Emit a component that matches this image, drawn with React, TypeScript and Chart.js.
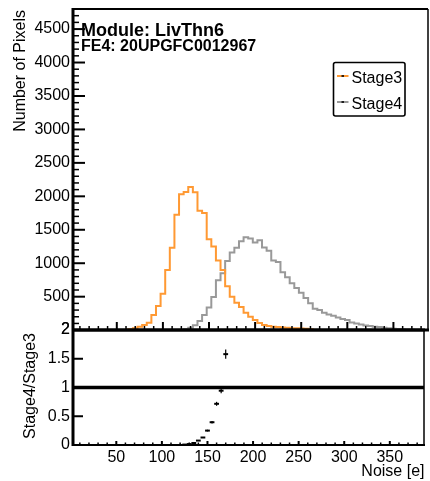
import React, { useEffect, useRef } from 'react';
import { Chart, registerables } from 'chart.js';

Chart.register(...registerables);

// ---------- data ----------
const binCenters = [
  60, 65, 70, 75, 80, 85, 90, 95, 100, 105, 110, 115, 120, 125, 130, 135, 140, 145, 150, 155,
  160, 165, 170, 175, 180, 185, 190, 195, 200, 205, 210, 215, 220, 225, 230, 235, 240, 245, 250, 255,
  260, 265, 270, 275, 280, 285, 290, 295, 300, 305, 310, 315, 320, 325, 330, 335, 340, 345, 350, 355,
  360, 365, 370, 375, 380, 385,
];
const binWidth = 5;

const stage3 = [
  0, 15, 30, 50, 75, 110, 225, 360, 545, 900, 1233, 1725, 2030, 2065, 2140, 2060, 1785, 1750, 1357, 1250,
  1040, 900, 655, 500, 410, 345, 260, 200, 150, 105, 75, 60, 52, 46, 40, 35, 30, 27, 24, 20,
  15, 0, 0, 0, 0, 0, 0, 0, 0, 0, 0, 0, 0, 0, 0, 0, 0, 0, 0, 0,
  0, 0, 0, 0, 0, 0,
];

const stage4 = [
  0, 0, 0, 0, 0, 0, 0, 0, 0, 0, 0, 0, 0, 15, 35, 72, 137, 228, 340, 495,
  745, 850, 1035, 1160, 1230, 1330, 1390, 1370, 1310, 1345, 1235, 1185, 1040, 1020, 865, 790, 700, 630, 560, 480,
  400, 320, 300, 260, 235, 215, 190, 165, 150, 115, 100, 85, 70, 60, 52, 45, 35, 28, 22, 18,
  14, 10, 8, 5, 3, 2,
];

const xTickValues = [50, 100, 150, 200, 250, 300, 350];
const yTickValuesMain = [2, 500, 1000, 1500, 2000, 2500, 3000, 3500, 4000, 4500];
const yTickValuesRatio = [0, 0.5, 1, 1.5, 2];
const seriesNames = ['Stage3', 'Stage4'];
const seriesColors = ['#ff9933', '#999999'];
const moduleLabel = 'Module: LivThn6';
const feLabel = 'FE4: 20UPGFC0012967';
const yTitleMain = 'Number of Pixels';
const yTitleRatio = 'Stage4/Stage3';
const xTitle = 'Noise [e]';

// ---------- helpers ----------
const FONT = '"Liberation Sans", Arial, Helvetica, sans-serif';

function histPoints(vals: number[]) {
  const pts = binCenters.map((c, i) => ({ x: c - binWidth / 2, y: vals[i] }));
  const last = binCenters.length - 1;
  pts.push({ x: binCenters[last] + binWidth / 2, y: vals[last] });
  return pts;
}

function ratioPoints() {
  const out: { x: number; y: number; e: number }[] = [];
  binCenters.forEach((c, i) => {
    const a = stage4[i];
    const b = stage3[i];
    if (a > 0 && b > 0) {
      const r = a / b;
      if (r <= 2) out.push({ x: c, y: r, e: r * Math.sqrt(1 / a + 1 / b) });
    }
  });
  return out;
}

function line(ctx: CanvasRenderingContext2D, x1: number, y1: number, x2: number, y2: number, w: number) {
  ctx.lineWidth = w;
  ctx.beginPath();
  ctx.moveTo(x1, y1);
  ctx.lineTo(x2, y2);
  ctx.stroke();
}

const upperDecor = {
  id: 'upperDecor',
  afterDraw(chart: any) {
    const { ctx, chartArea: a } = chart;
    const xs = chart.scales.x;
    const ys = chart.scales.y;
    ctx.save();
    ctx.strokeStyle = '#000';
    // y ticks (inward)
    for (let v = 100; v < ys.max; v += 100) {
      const py = ys.getPixelForValue(v);
      const major = v % 500 === 0;
      line(ctx, a.left, py, a.left + (major ? 12 : 6), py, major ? 2 : 1.5);
    }
    // x ticks on bottom of upper pad
    for (let v = 10; v < xs.max; v += 10) {
      const px = xs.getPixelForValue(v);
      const major = v % 50 === 0;
      line(ctx, px, a.bottom, px, a.bottom - (major ? 8 : 4), major ? 2 : 1.5);
    }
    // frame
    line(ctx, a.left, a.top, a.right, a.top, 2);
    line(ctx, a.right, a.top, a.right, a.bottom, 1.5);
    line(ctx, a.left, a.top - 1, a.left, a.bottom, 3);
    line(ctx, a.left, a.bottom, a.right + 1, a.bottom, 3);

    // texts
    ctx.fillStyle = '#000';
    ctx.textAlign = 'left';
    ctx.textBaseline = 'alphabetic';
    ctx.font = `bold 18px ${FONT}`;
    ctx.fillText(moduleLabel, a.left + 8, 35.5);
    ctx.font = `bold 16px ${FONT}`;
    ctx.fillText(feLabel, a.left + 8, 50.5);

    // y title
    ctx.save();
    ctx.font = `16px ${FONT}`;
    ctx.translate(25, a.top + 1);
    ctx.rotate(-Math.PI / 2);
    ctx.textAlign = 'right';
    ctx.fillText(yTitleMain, 0, 0);
    ctx.restore();

    // legend
    const lx = 333.5, ly = 62.5, lw = 71.5, lh = 53.5;
    ctx.fillStyle = '#fff';
    ctx.beginPath();
    (ctx as any).roundRect(lx, ly, lw, lh, 2);
    ctx.fill();
    ctx.lineWidth = 1.6;
    ctx.strokeStyle = '#000';
    ctx.stroke();
    const rows = [76, 102];
    seriesNames.forEach((name, i) => {
      const ry = rows[i];
      ctx.strokeStyle = seriesColors[i];
      line(ctx, lx + 3.5, ry, lx + 15, ry, 2);
      ctx.strokeStyle = '#000';
      line(ctx, lx + 8, ry, lx + 10.5, ry, 1.6);
      ctx.fillStyle = '#000';
      ctx.font = `16px ${FONT}`;
      ctx.textAlign = 'left';
      ctx.textBaseline = 'alphabetic';
      ctx.fillText(name, lx + 18, ry + 6.5);
    });
    ctx.restore();
  },
};

const ratioDecor = {
  id: 'ratioDecor',
  beforeDatasetsDraw(chart: any) {
    const { ctx, chartArea: a } = chart;
    const ys = chart.scales.y;
    ctx.save();
    ctx.strokeStyle = '#000';
    const py = ys.getPixelForValue(1);
    line(ctx, a.left, py, a.right, py, 3.5);
    ctx.restore();
  },
  afterDatasetsDraw(chart: any) {
    const { ctx } = chart;
    const xs = chart.scales.x;
    const ys = chart.scales.y;
    const ds = chart.data.datasets[0].data as { x: number; y: number; e: number }[];
    ctx.save();
    ctx.strokeStyle = '#000';
    ds.forEach((p) => {
      const px = xs.getPixelForValue(p.x);
      const y1 = ys.getPixelForValue(p.y - p.e);
      const y2 = ys.getPixelForValue(p.y + p.e);
      if (Math.abs(y1 - y2) > 1.5) line(ctx, px, y1, px, y2, 1.2);
    });
    ctx.restore();
  },
  afterDraw(chart: any) {
    const { ctx, chartArea: a } = chart;
    const xs = chart.scales.x;
    const ys = chart.scales.y;
    ctx.save();
    ctx.strokeStyle = '#000';
    yTickValuesRatio.forEach((v) => {
      const py = ys.getPixelForValue(v);
      line(ctx, a.left, py, a.left + 10, py, 2);
    });
    for (let v = 10; v < xs.max; v += 10) {
      const px = xs.getPixelForValue(v);
      const major = v % 50 === 0;
      line(ctx, px, a.bottom, px, a.bottom - (major ? 4 : 2.5), major ? 2 : 1.5);
    }
    line(ctx, a.left, a.top, a.right + 1, a.top, 3);
    line(ctx, a.right, a.top, a.right, a.bottom, 1.5);
    line(ctx, a.left, a.top, a.left, a.bottom + 1, 3);
    line(ctx, a.left, a.bottom, a.right + 1, a.bottom, 2);

    ctx.fillStyle = '#000';
    ctx.font = `16px ${FONT}`;
    ctx.save();
    ctx.translate(35, (a.top + a.bottom) / 2 - 1.5);
    ctx.rotate(-Math.PI / 2);
    ctx.textAlign = 'center';
    ctx.textBaseline = 'alphabetic';
    ctx.fillText(yTitleRatio, 0, 0);
    ctx.restore();

    ctx.textAlign = 'right';
    ctx.textBaseline = 'alphabetic';
    ctx.fillText(xTitle, a.right + 0.5, 476);
    ctx.restore();
  },
};

const tickFont = { family: FONT, size: 16 };

export default function App() {
  const topRef = useRef<HTMLCanvasElement>(null);
  const botRef = useRef<HTMLCanvasElement>(null);

  useEffect(() => {
    const xMin = binCenters[0] - binWidth / 2 - 55;
    const xMax = binCenters[binCenters.length - 1] + binWidth / 2;

    const c1 = new Chart(topRef.current as HTMLCanvasElement, {
      type: 'line',
      data: {
        datasets: [
          {
            label: seriesNames[0],
            data: histPoints(stage3),
            borderColor: seriesColors[0],
            borderWidth: 2,
            pointRadius: 0,
            stepped: true,
            fill: false,
          },
          {
            label: seriesNames[1],
            data: histPoints(stage4),
            borderColor: seriesColors[1],
            borderWidth: 2,
            pointRadius: 0,
            stepped: true,
            fill: false,
          },
        ],
      },
      options: {
        responsive: false,
        animation: false,
        devicePixelRatio: 1,
        events: [],
        layout: { padding: { left: 0, top: 9, right: 2, bottom: 151 } },
        plugins: { legend: { display: false }, tooltip: { enabled: false } },
        scales: {
          x: { type: 'linear', min: xMin, max: xMax, display: false },
          y: {
            type: 'linear',
            min: 2,
            max: 4800,
            grid: { display: false, drawTicks: false },
            border: { display: false },
            ticks: {
              font: tickFont,
              color: '#000',
              padding: 3,
              autoSkip: false,
              callback: (v: any) => String(v),
            },
            afterBuildTicks: (s: any) => {
              s.ticks = yTickValuesMain.map((v) => ({ value: v }));
            },
            afterFit: (s: any) => {
              s.width = 73;
              s.paddingTop = 0;
              s.paddingBottom = 0;
            },
          },
        },
      } as any,
      plugins: [upperDecor],
    });

    const c2 = new Chart(botRef.current as HTMLCanvasElement, {
      type: 'scatter',
      data: {
        datasets: [
          {
            label: yTitleRatio,
            data: ratioPoints(),
            pointStyle: 'line',
            pointRadius: 2.4,
            borderColor: '#000',
            backgroundColor: '#000',
            borderWidth: 2,
          },
        ],
      },
      options: {
        responsive: false,
        animation: false,
        devicePixelRatio: 1,
        events: [],
        layout: { padding: { left: 0, top: 330, right: 2, bottom: 0 } },
        plugins: { legend: { display: false }, tooltip: { enabled: false } },
        scales: {
          x: {
            type: 'linear',
            min: xMin,
            max: xMax,
            grid: { display: false, drawTicks: false },
            border: { display: false },
            ticks: {
              font: tickFont,
              color: '#000',
              padding: 3,
              maxRotation: 0,
              autoSkip: false,
              callback: (v: any) => String(v),
            },
            afterBuildTicks: (s: any) => {
              s.ticks = xTickValues.map((v) => ({ value: v }));
            },
            afterFit: (s: any) => {
              s.height = 36;
              s.paddingLeft = 0;
              s.paddingRight = 0;
            },
          },
          y: {
            type: 'linear',
            min: 0,
            max: 2,
            grid: { display: false, drawTicks: false },
            border: { display: false },
            ticks: {
              font: tickFont,
              color: '#000',
              padding: 3,
              autoSkip: false,
              callback: (v: any) => String(v),
            },
            afterBuildTicks: (s: any) => {
              s.ticks = yTickValuesRatio.map((v) => ({ value: v }));
            },
            afterFit: (s: any) => {
              s.width = 73;
              s.paddingTop = 0;
              s.paddingBottom = 0;
            },
          },
        },
      } as any,
      plugins: [ratioDecor],
    });

    return () => {
      c1.destroy();
      c2.destroy();
    };
  }, []);

  return (
    <div style={{ position: 'fixed', left: 0, top: 0, width: 430, height: 481, background: '#fff' }}>
      <canvas ref={topRef} width={430} height={481} style={{ position: 'absolute', left: 0, top: 0 }} />
      <canvas ref={botRef} width={430} height={481} style={{ position: 'absolute', left: 0, top: 0 }} />
    </div>
  );
}
